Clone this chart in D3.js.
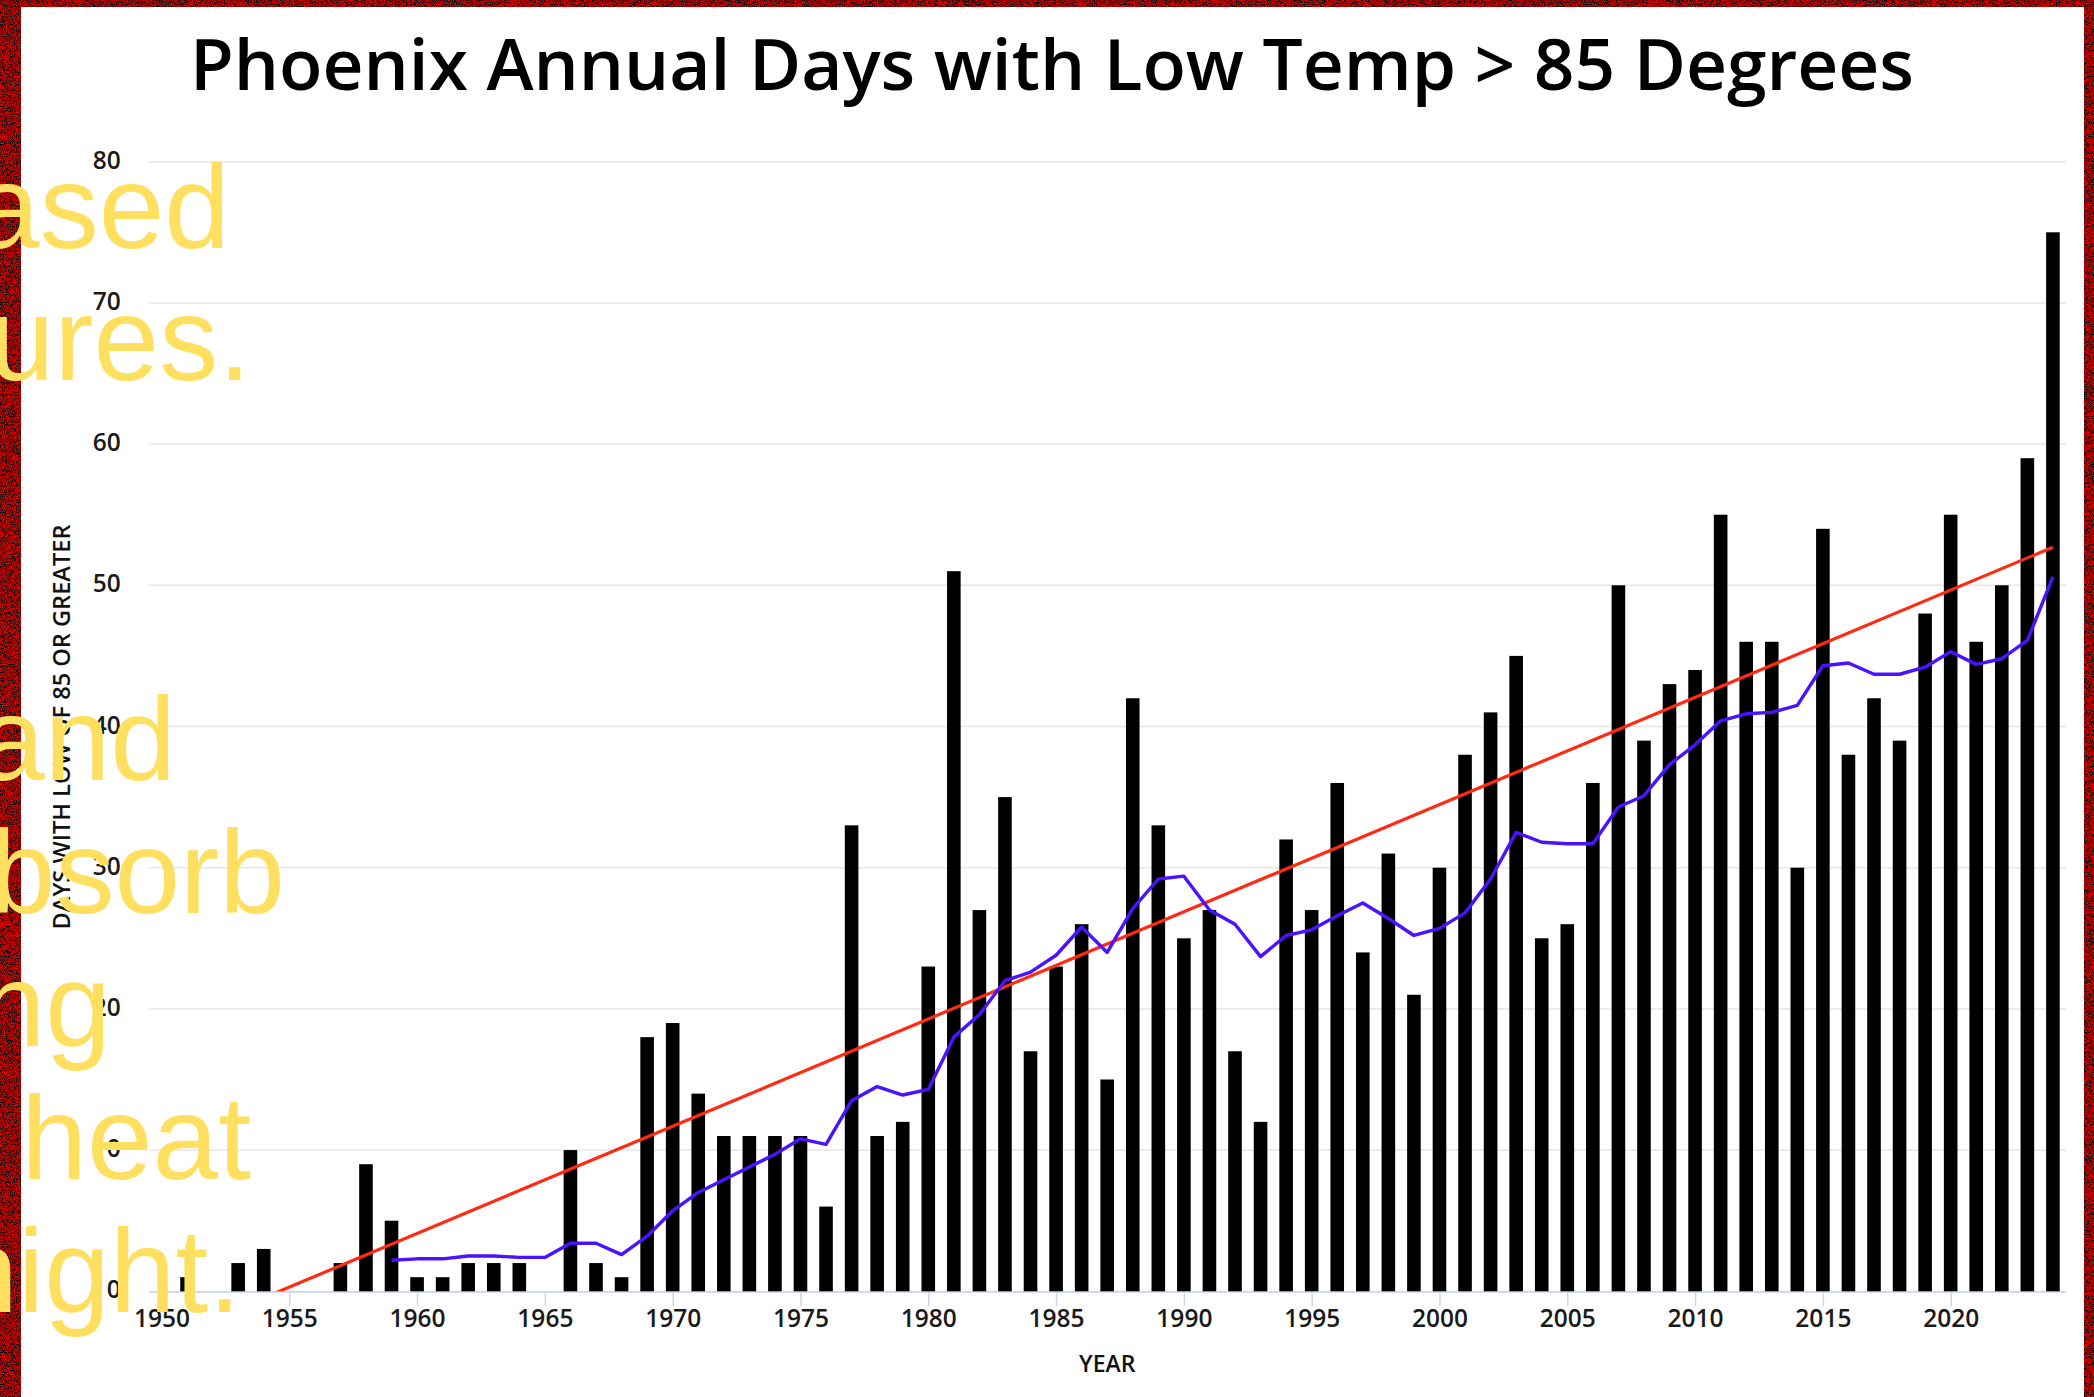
<!DOCTYPE html>
<html>
<head>
<meta charset="utf-8">
<script src="https://cdn.jsdelivr.net/npm/d3@7"></script>
<style>
  html, body { margin: 0; padding: 0; background: #000; }
  svg { display: block; }
</style>
</head>
<body>
<svg id="chart" width="2094" height="1397"></svg>
<script>
// ---------------- DATA ----------------
const titleText = "Phoenix Annual Days with Low Temp > 85 Degrees";
const yAxisTitle = "DAYS WITH LOW OF 85 OR GREATER";
const xAxisTitle = "YEAR";

const years = [1950,1951,1952,1953,1954,1955,1956,1957,1958,1959,
               1960,1961,1962,1963,1964,1965,1966,1967,1968,1969,
               1970,1971,1972,1973,1974,1975,1976,1977,1978,1979,
               1980,1981,1982,1983,1984,1985,1986,1987,1988,1989,
               1990,1991,1992,1993,1994,1995,1996,1997,1998,1999,
               2000,2001,2002,2003,2004,2005,2006,2007,2008,2009,
               2010,2011,2012,2013,2014,2015,2016,2017,2018,2019,
               2020,2021,2022,2023,2024];

const daysOver85 = [0,1,0,2,3,0,0,2,9,5,
                    1,1,2,2,2,0,10,2,1,18,
                    19,14,11,11,11,11,6,33,11,12,
                    23,51,27,35,17,23,26,15,42,33,
                    25,27,17,12,32,27,36,24,31,21,
                    30,38,41,45,25,26,36,50,39,43,
                    44,55,46,46,30,54,38,42,39,48,
                    55,46,50,59,75];

// 10-year running mean (blue line), 1959-2024
const avgYears = years.slice(9);
const avg10 = [2.2,
               2.3,2.3,2.5,2.5,2.4,2.4,3.4,3.4,2.6,3.9,
               5.7,7.0,7.9,8.8,9.7,10.8,10.4,13.5,14.5,13.9,
               14.3,18.0,19.6,22.0,22.6,23.8,25.8,24.0,27.1,29.2,
               29.4,27.0,26.0,23.7,25.2,25.6,26.6,27.5,26.4,25.2,
               25.7,26.8,29.2,32.5,31.8,31.7,31.7,34.3,35.1,37.3,
               38.7,40.4,40.9,41.0,41.5,44.3,44.5,43.7,43.7,44.2,
               45.3,44.4,44.8,46.1,50.6];

// linear trend (red line) end points
const trendYears = [1950, 2024];
const trendValues = [-3.5, 52.7];

const yTicks = [0,10,20,30,40,50,60,70,80];
const xTicks = [1950,1955,1960,1965,1970,1975,1980,1985,1990,1995,2000,2005,2010,2015,2020];

// overlay caption fragments (yellow text)
const overlayWords = ["ased","ures.","and","bsorb","ng","heat","night."];

// ---------------- LAYOUT ----------------
const W = 2094, H = 1397;
const plotLeft = 148.7, plotRight = 2065.7, plotTop = 161.7, plotBottom = 1291.3;
const overlayLayout = [
  {xEnd: 230, y: 248}, {xEnd: 251, y: 380},
  {xEnd: 176, y: 780}, {xEnd: 285, y: 913},
  {xEnd: 111, y: 1046}, {xEnd: 251, y: 1179}, {xEnd: 241, y: 1312}
];

const svg = d3.select("#chart");
const defs = svg.append("defs");

// noisy red border texture
const f = defs.append("filter").attr("id","noise").attr("x",0).attr("y",0).attr("width","100%").attr("height","100%");
f.append("feTurbulence").attr("type","fractalNoise").attr("baseFrequency",0.9).attr("numOctaves",2).attr("seed",7).attr("result","t");
f.append("feColorMatrix").attr("type","matrix")
  .attr("values","3.0 0 0 0 -1.2  0 0 0 0 0  0 0 0 0 0  0 0 0 0 1");

defs.append("clipPath").attr("id","plotClip").append("rect")
  .attr("x", plotLeft).attr("y", plotTop).attr("width", plotRight - plotLeft).attr("height", plotBottom - plotTop);

svg.append("rect").attr("width", W).attr("height", H).attr("fill", "#300000").attr("filter","url(#noise)");
svg.append("rect").attr("x", 21).attr("y", 7).attr("width", 2084 - 21).attr("height", H - 7).attr("fill", "#ffffff");

// scales
const x = d3.scaleLinear().domain([1949.5, 2024.5]).range([plotLeft, plotRight]);
const y = d3.scaleLinear().domain([0, 80]).range([plotBottom, plotTop]);

// title
svg.append("text")
  .attr("x", 190).attr("y", 90)
  .attr("font-family", "'Open Sans', 'Noto Sans', sans-serif")
  .attr("font-size", 70).attr("font-weight", 600)
  .attr("fill", "#000")
  .attr("textLength", 1724).attr("lengthAdjust", "spacingAndGlyphs")
  .text(titleText);

// grid lines
svg.append("g").selectAll("line").data(yTicks.filter(d => d > 0)).join("line")
  .attr("x1", plotLeft).attr("x2", plotRight)
  .attr("y1", d => y(d)).attr("y2", d => y(d))
  .attr("stroke", "#e6e6e6").attr("stroke-width", 1.5);

// y axis
const yAxis = svg.append("g").attr("transform", `translate(${plotLeft},0)`)
  .call(d3.axisLeft(y).tickValues(yTicks).tickSize(0).tickPadding(0).tickFormat(d3.format("d")));
yAxis.select(".domain").remove();
yAxis.selectAll("text")
  .attr("x", -28).attr("dy", 6.5)
  .attr("font-family", "'Open Sans', 'Noto Sans', sans-serif")
  .attr("font-size", 24.5).attr("font-weight", 600).attr("fill", "#1a1a1a");

// x axis
const xAxis = svg.append("g").attr("transform", `translate(0,${plotBottom})`)
  .call(d3.axisBottom(x).tickValues(xTicks).tickSize(15).tickSizeOuter(0).tickFormat(d3.format("d")));
xAxis.select(".domain").attr("stroke", "#ccd6eb").attr("stroke-width", 1.8);
xAxis.selectAll(".tick line").attr("stroke", "#ccd6eb").attr("stroke-width", 1.5);
xAxis.selectAll(".tick").filter(d => d === 1950).select("line").remove();
xAxis.selectAll("text")
  .attr("y", 36).attr("dy", 0)
  .attr("font-family", "'Open Sans', 'Noto Sans', sans-serif")
  .attr("font-size", 24.5).attr("font-weight", 600).attr("fill", "#1a1a1a");

// axis titles
svg.append("text")
  .attr("transform", "translate(70,727) rotate(-90)")
  .attr("text-anchor", "middle")
  .attr("font-family", "'Open Sans', 'Noto Sans', sans-serif")
  .attr("font-size", 24).attr("font-weight", 600).attr("fill", "#111")
  .attr("textLength", 405).attr("lengthAdjust", "spacingAndGlyphs")
  .text(yAxisTitle);

svg.append("text")
  .attr("x", (plotLeft + plotRight) / 2).attr("y", 1372)
  .attr("text-anchor", "middle")
  .attr("font-family", "'Open Sans', 'Noto Sans', sans-serif")
  .attr("font-size", 23).attr("font-weight", 600).attr("fill", "#111")
  .text(xAxisTitle);

// bars
const barW = 13.6;
const barData = years.map((yr, i) => ({year: yr, v: daysOver85[i]})).filter(d => d.v > 0);
svg.append("g").selectAll("rect").data(barData).join("rect")
  .attr("x", d => x(d.year) - barW / 2)
  .attr("y", d => y(d.v))
  .attr("width", barW)
  .attr("height", d => y(0) - y(d.v))
  .attr("fill", "#000");

const line = d3.line().x(d => x(d.year)).y(d => y(d.v));

// trend line
svg.append("path")
  .datum(trendYears.map((yr, i) => ({year: yr, v: trendValues[i]})))
  .attr("clip-path", "url(#plotClip)")
  .attr("d", line)
  .attr("fill", "none").attr("stroke", "#ff2a12").attr("stroke-width", 3.2);

// running mean line
svg.append("path")
  .datum(avgYears.map((yr, i) => ({year: yr, v: avg10[i]})))
  .attr("d", line)
  .attr("fill", "none").attr("stroke", "#4a12ff").attr("stroke-width", 3.4)
  .attr("stroke-linejoin", "round");

// overlay caption fragments
svg.append("g").selectAll("text").data(overlayWords).join("text")
  .attr("x", (d, i) => overlayLayout[i].xEnd)
  .attr("y", (d, i) => overlayLayout[i].y)
  .attr("text-anchor", "end")
  .attr("font-family", "'Liberation Sans', Arial, sans-serif")
  .attr("font-size", 118)
  .attr("fill", "#ffdf5f")
  .text(d => d);
</script>
</body>
</html>
